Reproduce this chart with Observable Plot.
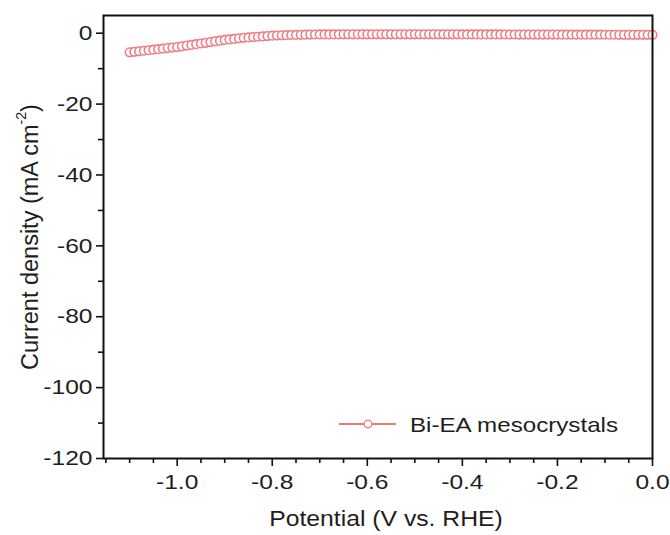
<!DOCTYPE html>
<html>
<head>
<meta charset="utf-8">
<script src="https://cdn.jsdelivr.net/npm/d3@7"></script>
<script src="https://cdn.jsdelivr.net/npm/@observablehq/plot@0.6"></script>
<style>
  body { margin: 0; background: #fff; }
  #wrap { position: relative; width: 670px; height: 535px; font-family: Arial, "Liberation Sans", sans-serif; color: #1e1e1e; }
  .t { position: absolute; white-space: nowrap; line-height: 1; }
</style>
</head>
<body>
<div id="wrap"></div>
<script>
const potential = [
  -1.10,-1.09,-1.08,-1.07,-1.06,-1.05,-1.04,-1.03,-1.02,-1.01,
  -1.00,-0.99,-0.98,-0.97,-0.96,-0.95,-0.94,-0.93,-0.92,-0.91,
  -0.90,-0.89,-0.88,-0.87,-0.86,-0.85,-0.84,-0.83,-0.82,-0.81,
  -0.80,-0.79,-0.78,-0.77,-0.76,-0.75,-0.74,-0.73,-0.72,-0.71,
  -0.70,-0.69,-0.68,-0.67,-0.66,-0.65,-0.64,-0.63,-0.62,-0.61,
  -0.60,-0.59,-0.58,-0.57,-0.56,-0.55,-0.54,-0.53,-0.52,-0.51,
  -0.50,-0.49,-0.48,-0.47,-0.46,-0.45,-0.44,-0.43,-0.42,-0.41,
  -0.40,-0.39,-0.38,-0.37,-0.36,-0.35,-0.34,-0.33,-0.32,-0.31,
  -0.30,-0.29,-0.28,-0.27,-0.26,-0.25,-0.24,-0.23,-0.22,-0.21,
  -0.20,-0.19,-0.18,-0.17,-0.16,-0.15,-0.14,-0.13,-0.12,-0.11,
  -0.10,-0.09,-0.08,-0.07,-0.06,-0.05,-0.04,-0.03,-0.02,-0.01,
  0.00
];
const currentDensity = [
  -5.40,-5.25,-5.10,-4.95,-4.80,-4.65,-4.50,-4.35,-4.20,-4.05,
  -3.90,-3.70,-3.50,-3.30,-3.10,-2.90,-2.70,-2.50,-2.30,-2.10,
  -1.90,-1.75,-1.60,-1.45,-1.30,-1.20,-1.10,-1.00,-0.90,-0.80,
  -0.70,-0.65,-0.60,-0.55,-0.50,-0.47,-0.44,-0.41,-0.38,-0.36,
  -0.35,-0.34,-0.34,-0.33,-0.33,-0.32,-0.32,-0.32,-0.31,-0.31,
  -0.31,-0.31,-0.30,-0.30,-0.30,-0.30,-0.30,-0.30,-0.30,-0.30,
  -0.30,-0.30,-0.31,-0.31,-0.31,-0.31,-0.32,-0.32,-0.32,-0.32,
  -0.33,-0.33,-0.33,-0.34,-0.34,-0.34,-0.35,-0.35,-0.35,-0.36,
  -0.36,-0.36,-0.37,-0.37,-0.37,-0.38,-0.38,-0.38,-0.39,-0.39,
  -0.39,-0.40,-0.40,-0.40,-0.41,-0.41,-0.41,-0.42,-0.42,-0.42,
  -0.43,-0.43,-0.43,-0.44,-0.44,-0.44,-0.45,-0.45,-0.45,-0.45,
  -0.45
];
const xMajorTicks = [-1.0, -0.8, -0.6, -0.4, -0.2, 0.0];
const xMinorTicks = [-1.15, -1.10, -1.05, -0.95, -0.90, -0.85, -0.75, -0.70, -0.65, -0.55, -0.50, -0.45, -0.35, -0.30, -0.25, -0.15, -0.10, -0.05];
const yMajorTicks = [0, -20, -40, -60, -80, -100, -120];
const yMinorTicks = [-10, -30, -50, -70, -90, -110];
const seriesName = "Bi-EA mesocrystals";
const xTitle = "Potential (V vs. RHE)";
const yTitle = "Current density (mA cm";

const data = potential.map((p, i) => ({p, j: currentDensity[i]}));
const lineColor = "#e8474c";
const dotColor = "#ee7f86";

const chart = Plot.plot({
  width: 670,
  height: 535,
  marginLeft: 103,
  marginRight: 18,
  marginTop: 15,
  marginBottom: 77,
  style: {fontFamily: "Arial, 'Liberation Sans', sans-serif", fontSize: "21px", color: "#1e1e1e", background: "#fff"},
  x: {domain: [-1.155, 0], label: null},
  y: {domain: [-120, 5], label: null},
  marks: [
    Plot.line(data, {x: "p", y: "j", stroke: lineColor, strokeWidth: 1.5}),
    Plot.dot(data, {x: "p", y: "j", r: 4.3, fill: "white", stroke: dotColor, strokeWidth: 1.6}),
    Plot.axisX(xMinorTicks, {tickSize: 5, text: null, stroke: "#111", strokeWidth: 1.6}),
    Plot.axisX(xMajorTicks, {tickSize: 8, tickPadding: 8, stroke: "#111", strokeWidth: 1.6, fill: "#1e1e1e", fontSize: 21, tickFormat: d => d.toFixed(1)}),
    Plot.axisY(yMinorTicks, {tickSize: 5, text: null, stroke: "#111", strokeWidth: 1.6}),
    Plot.axisY(yMajorTicks, {tickSize: 7, tickPadding: 4, stroke: "#111", strokeWidth: 1.6, fill: "#1e1e1e", fontSize: 21, tickFormat: d => String(d)}),
    Plot.frame({stroke: "#111", strokeWidth: 2})
  ]
});

// widen tick label glyphs horizontally to match the reference's wide lettering
chart.querySelectorAll('g[aria-label$="tick label"] text').forEach(t => {
  const tr = t.getAttribute("transform") || "";
  t.setAttribute("transform", `${tr} scale(1.17,1)`);
});

const wrap = document.getElementById("wrap");
wrap.appendChild(chart);

// axis titles
const xt = document.createElement("div");
xt.className = "t";
xt.textContent = xTitle;
xt.style.cssText = "left:386px;top:520px;font-size:21.5px;transform:translate(-50%,-50%) scale(1.15,1);";
wrap.appendChild(xt);

const yt = document.createElement("div");
yt.className = "t";
yt.innerHTML = yTitle + "<span style='font-size:0.6em;position:relative;top:-0.75em'>-2</span>)";
yt.style.cssText = "left:30px;top:237px;font-size:23.5px;transform:translate(-50%,-50%) rotate(-90deg) scale(1,1.05);";
wrap.appendChild(yt);

// legend
const lg = document.createElement("div");
lg.className = "t";
lg.style.cssText = "left:337px;top:412px;height:24px;display:flex;align-items:center;";
lg.innerHTML = `<svg width="62" height="24" style="display:block"><line x1="2" x2="59" y1="12" y2="12" stroke="${lineColor}" stroke-width="1.6"/><circle cx="31" cy="12" r="3.8" fill="white" stroke="${dotColor}" stroke-width="1.3"/></svg>` +
  `<span style="font-size:21px;margin-left:11px;display:inline-block;transform:scale(1.15,1);transform-origin:left center;">${seriesName}</span>`;
wrap.appendChild(lg);
</script>
</body>
</html>
